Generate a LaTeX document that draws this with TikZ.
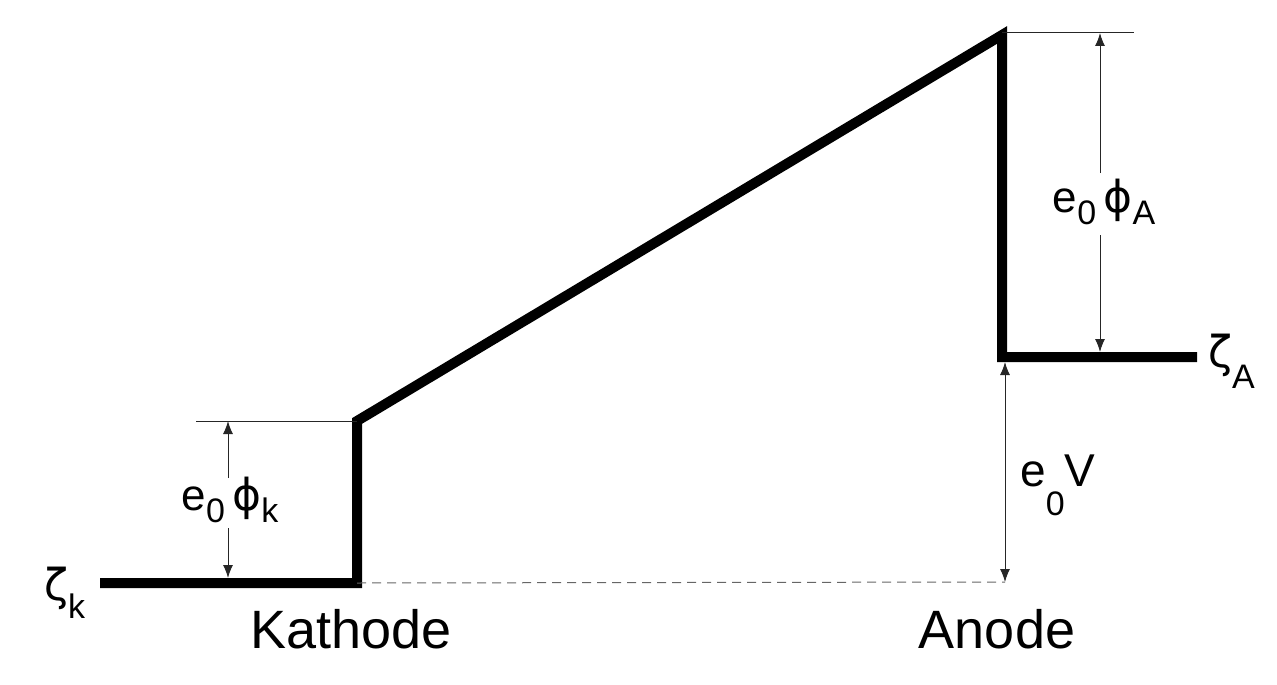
\documentclass[tikz,border=0pt]{standalone}
\usepackage{fontspec}
\setmainfont{Liberation Sans}
\newfontfamily\gr{DejaVu Sans}
\usetikzlibrary{arrows.meta}
\newcommand\lsub[2][-12pt]{\raisebox{#1}{\fontsize{34}{34}\selectfont #2}}
\tikzset{
  level/.style={line width=10pt, line join=miter, line cap=butt},
  thin/.style={line width=1pt, black!85},
  dimarrow/.style={thin, -{Latex[length=13pt,width=10pt]}},
  dimboth/.style={thin, {Latex[length=13pt,width=10pt]}-{Latex[length=13pt,width=10pt]}},
  dashline/.style={line width=1pt, black!60, dash pattern=on 9pt off 6pt},
  big/.style={font=\fontsize{54}{54}\selectfont, inner sep=0pt},
  lab/.style={font=\fontsize{44}{44}\selectfont, inner sep=0pt},
}
\begin{document}
\begin{tikzpicture}[x=1pt,y=-1pt]
\useasboundingbox (0,0) rectangle (1277,685);
% corners
\coordinate (k0) at (100,583);
\coordinate (k1) at (357,583);
\coordinate (k2) at (357,421);
\coordinate (a1) at (1002,35);
\coordinate (a2) at (1002,357);
\coordinate (a3) at (1197,357);
% energy line
\draw[level] (k0) -- (k1) -- (k2) -- (a1) -- (a2) -- (a3);
% reference lines
\coordinate (kt0) at (196,421);
\draw[thin] (kt0) -- (k2);
\coordinate (at1) at (1134,33);
\draw[thin] (1002,33) coordinate (at0) -- (at1);
\coordinate (ab) at (1005,582);
\draw[dashline] (k1) -- (ab);
% e0 phi_k
\node[lab, anchor=base] (phik) at (230,510) {e\lsub{0}\,{\gr ϕ}\lsub{k}};
\coordinate (pkt) at (228,421);
\coordinate (pkb) at (228,578);
\draw[dimarrow] (228,478) -- (pkt);
\draw[dimarrow] (228,528) -- (pkb);
% e0 phi_A
\node[lab, anchor=base] (phiA) at (1104,212) {e\lsub{0}\,{\gr ϕ}\lsub{A}};
\coordinate (pat) at (1100,33);
\coordinate (pab) at (1100,352);
\draw[dimarrow] (1100,173) -- (pat);
\draw[dimarrow] (1100,235) -- (pab);
% e0 V
\coordinate (vt) at (1005,362);
\draw[dimboth] (vt) -- (ab);
\node[lab, anchor=base west, font=\fontsize{46}{46}\selectfont] (eV) at (1020,486) {e\lsub[-29pt]{0}V};
% zetas
\node[lab, anchor=base west] (zk) at (44,600) {{\gr ζ}\lsub[-18pt]{k}};
\node[lab, anchor=base west] (zA) at (1208,367) {{\gr ζ}\lsub[-21pt]{A}};
% electrode names
\node[big, anchor=base] (kath) at (351,648) {Kathode};
\node[big, anchor=base] (anode) at (997,648) {Anode};
\end{tikzpicture}
\end{document}
